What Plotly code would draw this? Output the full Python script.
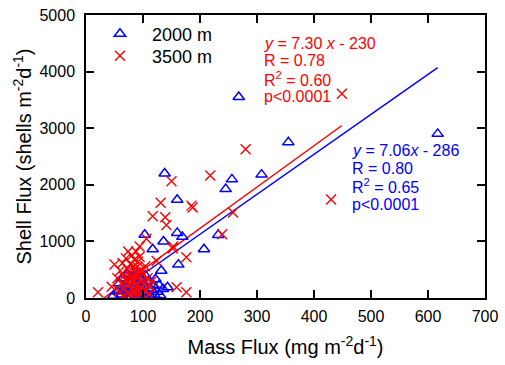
import plotly.graph_objects as go

# ---- data ----
blue_x = [268, 617, 355, 308, 256, 245, 138, 160, 160, 169, 136, 117, 232, 207, 162, 132, 103,
          48, 55, 58, 62, 65, 68, 70, 72, 74, 75, 77, 78, 80, 82, 84, 85, 86, 88, 90, 92, 94, 95,
          97, 98, 100, 102, 104, 106, 108, 110, 112, 115, 118, 120, 122, 125, 128, 130, 135, 143]
blue_y = [3550, 2900, 2750, 2180, 2096, 1924, 2200, 1735, 1150, 1080, 997, 860, 1115, 860, 590, 481, 1117,
          40, 120, 260, 60, 350, 180, 20, 420, 90, 300, 150, 500, 30, 230, 380, 80, 10, 270, 160, 440, 60, 200,
          330, 110, 20, 250, 400, 70, 170, 300, 40, 140, 230, 60, 330, 110, 223, 50, 160, 189]

red_x = [449, 430, 280, 218, 150, 131, 185, 187, 117, 139, 141, 258, 239, 153, 176, 124, 159, 176,
         106, 50, 21, 94, 152,
         45, 55, 58, 60, 62, 64, 65, 66, 68, 70, 71, 72, 73, 74, 75, 76, 77, 78, 79, 80, 80, 81, 82,
         83, 84, 85, 85, 86, 87, 88, 88, 89, 90, 90, 91, 92, 93, 94, 95, 96, 97, 98, 100, 102, 104,
         106, 108, 110, 112, 115]
red_y = [3610, 1740, 2629, 2165, 2062, 1684, 1632, 1600, 1443, 1426, 1289, 1512, 1125, 910, 720, 653, 189, 103,
         1048, 590, 100, 910, 876,
         200, 350, 120, 480, 260, 620, 40, 380, 150, 700, 300, 520, 90, 820, 230, 410, 60, 600, 330, 150, 750,
         20, 480, 280, 560, 100, 680, 360, 200, 820, 450, 30, 550, 250, 640, 120, 400, 730, 180, 500, 300, 80,
         420, 240, 560, 130, 350, 60, 210, 290]

# regression lines: y = slope * x + intercept, drawn over each series' x range
blue_slope, blue_intercept = 7.06, -286
red_slope, red_intercept = 7.30, -230

x_ticks = [0, 100, 200, 300, 400, 500, 600, 700]
y_ticks = [0, 1000, 2000, 3000, 4000, 5000]

BLUE = "#0000FF"
RED = "#FF0000"
FONT = "Arial, 'Liberation Sans', sans-serif"
SERIF = "'Times New Roman', 'Liberation Serif', serif"

fig = go.Figure()

bx = [min(blue_x), max(blue_x)]
rx = [min(red_x), max(red_x)]
fig.add_trace(go.Scatter(x=bx, y=[blue_slope * v + blue_intercept for v in bx], mode="lines",
                         line=dict(color=BLUE, width=1.5), showlegend=False, hoverinfo="skip"))
fig.add_trace(go.Scatter(x=rx, y=[red_slope * v + red_intercept for v in rx], mode="lines",
                         line=dict(color=RED, width=1.5), showlegend=False, hoverinfo="skip"))

fig.add_trace(go.Scatter(x=blue_x, y=blue_y, mode="markers", name="2000 m", legend="legend",
                         marker=dict(symbol="triangle-up-open", size=10, color=BLUE,
                                     line=dict(color=BLUE, width=1.5))))
fig.add_trace(go.Scatter(x=red_x, y=red_y, mode="markers", name="3500 m", legend="legend2",
                         marker=dict(symbol="x-thin-open", size=10, color=RED,
                                     line=dict(color=RED, width=1.4))))

def eq_lines(x, ys, texts, color):
    for yy, t in zip(ys, texts):
        fig.add_annotation(x=x, y=yy, xref="x", yref="y", text=t, showarrow=False,
                           xanchor="left", yanchor="middle",
                           font=dict(family=FONT, size=16, color=color))

it = lambda s: f"<span style='font-family:{SERIF}'><i>{s}</i></span>"
eq_lines(308, [4500, 4200, 3870, 3560],
         [f"{it('y')} = 7.30 {it('x')} - 230", "R = 0.78", "R<sup>2</sup> = 0.60", "p&lt;0.0001"], RED)
eq_lines(463, [2600, 2290, 1975, 1650],
         [f"{it('y')} = 7.06{it('x')} - 286", "R = 0.80", "R<sup>2</sup> = 0.65", "p&lt;0.0001"], BLUE)

axis_common = dict(showline=True, linecolor="black", linewidth=1.5, mirror="ticks",
                   ticks="inside", ticklen=8, tickwidth=1.5, tickcolor="black",
                   showgrid=False, zeroline=False,
                   tickfont=dict(family=FONT, size=16, color="black"))

legend_common = dict(xanchor="left", yanchor="top", bgcolor="rgba(0,0,0,0)",
                     font=dict(family=FONT, size=18), itemwidth=54)

fig.update_layout(
    width=505, height=365,
    margin=dict(l=86, r=17, t=7, b=67),
    paper_bgcolor="white", plot_bgcolor="white",
    font=dict(family=FONT, color="black"),
    xaxis=dict(range=[0, 700], tickvals=x_ticks, ticklabelstandoff=3,
               title=dict(text="Mass Flux (mg m<sup>-2</sup>d<sup>-1</sup>)",
                          font=dict(family=FONT, size=20), standoff=16),
               **axis_common),
    yaxis=dict(range=[0, 5000], tickvals=y_ticks, ticklabelstandoff=6,
               title=dict(text="Shell Flux (shells m<sup>-2</sup>d<sup>-1</sup>)",
                          font=dict(family=FONT, size=20), standoff=2),
               **axis_common),
    legend=dict(x=0.005, y=0.998, **legend_common),
    legend2=dict(x=0.005, y=0.92, **legend_common),
    showlegend=True,
)

fig.write_html("out.html", config={"displayModeBar": False},
               post_script="document.body.style.margin='0';")
